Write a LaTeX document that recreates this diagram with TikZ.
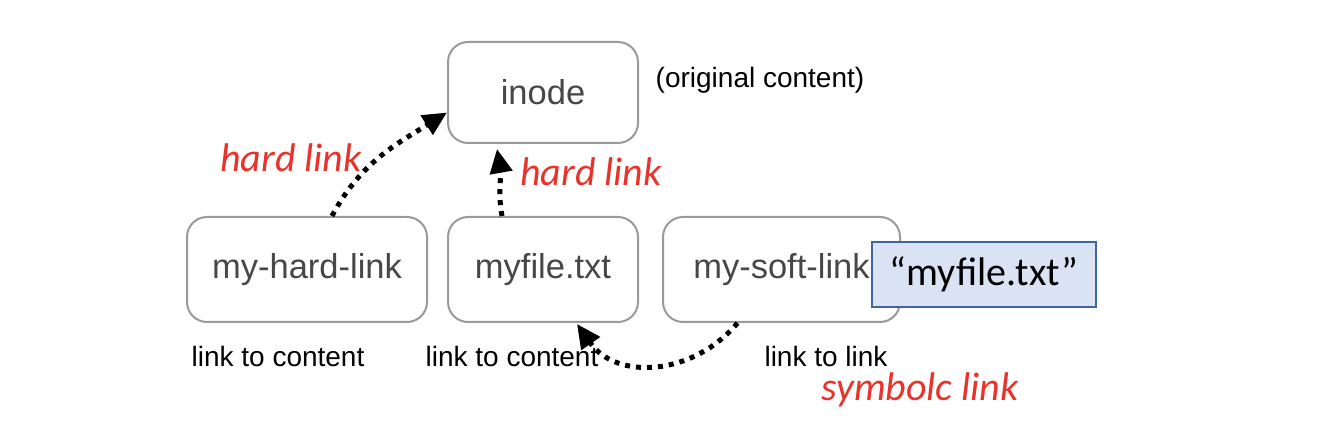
\documentclass[tikz,border=0pt]{standalone}
\usepackage{fontspec}
\setmainfont{Liberation Sans}
\newfontfamily\calib{Carlito}
\usetikzlibrary{arrows.meta}
\definecolor{boxline}{HTML}{9A9A9A}
\definecolor{boxtext}{HTML}{474747}
\definecolor{linkred}{HTML}{E8322A}
\definecolor{bluefill}{HTML}{DAE3F3}
\definecolor{blueline}{HTML}{41659F}
\tikzset{
  filebox/.style={draw=boxline, line width=2pt, rounded corners=20pt, inner sep=0pt,
    text=boxtext, font=\fontsize{34.5}{40}\selectfont},
  caption/.style={inner sep=0pt, text=black, font=\fontsize{28}{32}\selectfont},
  redlabel/.style={inner sep=0pt, text=linkred, font=\calib\itshape\fontsize{40}{46}\selectfont},
  dotlink/.style={line width=5pt, dash pattern=on 5pt off 6pt,
    -{Triangle[length=24pt,width=22pt]}},
  namebox/.style={draw=blueline, fill=bluefill, line width=1.5pt, inner sep=0pt,
    minimum width=224pt, minimum height=65pt, font=\calib\fontsize{40}{46}\selectfont}
}
\begin{document}
\begin{tikzpicture}[x=1pt,y=1pt]
\useasboundingbox (0,0) rectangle (1326,442);
\node[filebox, minimum width=190pt, minimum height=101pt] (inode) at (543,349.5) {inode};
\node[filebox, minimum width=240pt, minimum height=105pt] (hard) at (307,172.5) {my-hard-link};
\node[filebox, minimum width=190pt, minimum height=105pt] (myfile) at (543,172.5) {myfile.txt};
\node[filebox, minimum width=237pt, minimum height=105pt] (soft) at (781.5,172.5) {my-soft-link};
\node[namebox] (target) at (984,167.5) {“myfile.txt”};

\node[caption] (orig) at (760,362) {(original content)};
\node[caption] (cap1) at (278,86) {link to content};
\node[caption] (cap2) at (512,86) {link to content};
\node[caption] (cap3) at (826,86) {link to link};

\node[redlabel] (hl1) at (291,284) {hard link};
\node[redlabel] (hl2) at (591,270) {hard link};
\node[redlabel] (sl) at (920,52) {symbolc link};

\draw[dotlink] ([xshift=25pt]hard.north) to[out=62,in=212] ([yshift=-20pt]inode.west);
\draw[dotlink] ([xshift=-41pt]myfile.north) to[out=100,in=-80] ([xshift=-46pt,yshift=-5pt]inode.south);
\draw[dotlink] ([xshift=-44pt]soft.south) to[out=-130,in=-55,looseness=1.1] ([xshift=34pt,yshift=-1pt]myfile.south);
\end{tikzpicture}
\end{document}
